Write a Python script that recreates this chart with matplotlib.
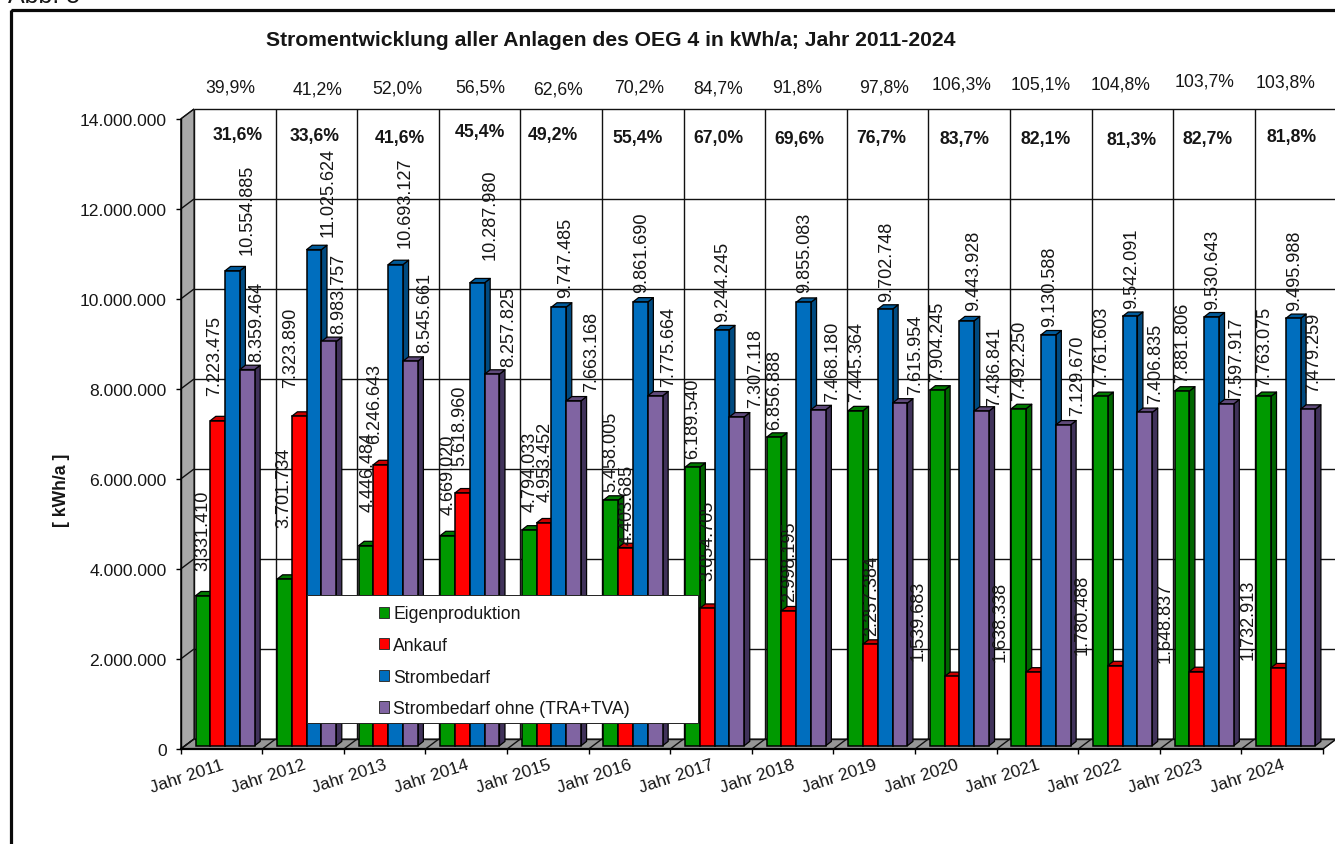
import matplotlib
matplotlib.use("Agg")
import matplotlib.pyplot as plt
from matplotlib.collections import PolyCollection
from matplotlib.patches import Patch, Rectangle, Polygon
from matplotlib.transforms import Affine2D

plt.rcParams['font.family'] = ['Liberation Sans', 'DejaVu Sans']

# ---------- data ----------
years = ["Jahr 2011", "Jahr 2012", "Jahr 2013", "Jahr 2014", "Jahr 2015", "Jahr 2016", "Jahr 2017",
         "Jahr 2018", "Jahr 2019", "Jahr 2020", "Jahr 2021", "Jahr 2022", "Jahr 2023", "Jahr 2024"]
eigenproduktion = [3331410, 3701734, 4446484, 4669020, 4794033, 5458005, 6189540,
                   6856888, 7445364, 7904245, 7492250, 7761603, 7881806, 7763075]
ankauf = [7223475, 7323890, 6246643, 5618960, 4953452, 4403685, 3054705,
          2998195, 2257384, 1539683, 1638338, 1780488, 1648837, 1732913]
strombedarf = [10554885, 11025624, 10693127, 10287980, 9747485, 9861690, 9244245,
               9855083, 9702748, 9443928, 9130588, 9542091, 9530643, 9495988]
strombedarf_ohne = [8359464, 8983757, 8545661, 8257825, 7663168, 7775664, 7307118,
                    7468180, 7615954, 7436841, 7129670, 7406835, 7597917, 7479259]
pct_top = ["39,9%", "41,2%", "52,0%", "56,5%", "62,6%", "70,2%", "84,7%",
           "91,8%", "97,8%", "106,3%", "105,1%", "104,8%", "103,7%", "103,8%"]
pct_bold = ["31,6%", "33,6%", "41,6%", "45,4%", "49,2%", "55,4%", "67,0%",
            "69,6%", "76,7%", "83,7%", "82,1%", "81,3%", "82,7%", "81,8%"]
series_names = ["Eigenproduktion", "Ankauf", "Strombedarf", "Strombedarf ohne (TRA+TVA)"]
yticks = [0, 2000000, 4000000, 6000000, 8000000, 10000000, 12000000, 14000000]

# ---------- styling ----------
front = ["#009900", "#FF0000", "#006EBE", "#8064A2"]
side = ["#006600", "#A80000", "#004A80", "#40325A"]
cap = ["#007A00", "#CC0000", "#005A9A", "#5F4A7A"]
TXT = "#161616"
W, H = 1335, 845
# value-label anchors in picture pixels (centre x, bottom y), one list per series
lab_pos = [
    [(203, 571), (284, 528), (368, 512), (448, 515), (530, 512), (611, 492), (693, 459),
     (775, 430), (857, 402), (938, 382), (1020, 401), (1102, 387), (1183, 383), (1265, 387)],
    [(215, 396), (291, 388), (375, 444), (460, 466), (545, 502), (627, 545), (708, 581),
     (790, 602), (872, 636), (918, 661), (1000, 662), (1082, 655), (1165, 663), (1248, 660)],
    [(247, 255), (328, 237), (405, 248), (490, 260), (566, 298), (642, 293), (723, 322),
     (805, 293), (887, 302), (974, 311), (1050, 327), (1132, 309), (1213, 310), (1295, 311)],
    [(257, 362), (339, 334), (425, 353), (509, 367), (592, 392), (669, 387), (756, 408),
     (833, 402), (916, 395), (995, 407), (1078, 416), (1156, 404), (1237, 398), (1314, 393)],
]
top_pos = [(230, 88), (318, 90), (397, 89), (480, 88), (558, 90), (639, 88), (718, 89),
           (797, 88), (884, 88), (962, 85), (1041, 85), (1121, 85), (1205, 82), (1286, 83)]
bold_pos = [(238, 136), (315, 137), (400, 139), (480, 133), (553, 136), (638, 139), (718, 139),
            (799, 140), (881, 139), (965, 140), (1046, 140), (1132, 141), (1208, 140), (1292, 138)]

fig = plt.figure(figsize=(W / 100, H / 100), dpi=100, facecolor="white")
PX = Affine2D().scale(1, -1).translate(0, H)   # picture pixels -> display

X0, X1, Y0, Y14 = 180.7, 1323.0, 750.0, 120.0
ax = fig.add_axes([X0 / W, (H - Y0) / H, (X1 - X0) / W, (Y0 - Y14) / H])
ax.set_xlim(0, 14)
ax.set_ylim(0, 14000000)
ax.patch.set_visible(False)
ux = 14 / (X1 - X0)                 # one pixel in category units
uy = 14000000 / (Y0 - Y14)          # one pixel in value units

# pseudo-3D depth of the chart box and of the bars, in pixels
DX, DY = 13.3 * ux, 10 * uy
BDX, BDY = 5.5 * ux, 4.3 * uy
BASE = 3.3 * uy
BAR_W = 14.8 * ux
BAR_START = 14.8 * ux

# walls
ax.add_patch(Polygon([(0, 0), (DX, DY), (DX, 14000000 + DY), (0, 14000000)], closed=True,
                     fc="#A8A8A8", ec="#222222", lw=0.8, clip_on=False, zorder=0.5))
ax.add_patch(Polygon([(0, 0), (14, 0), (14 + DX, DY), (DX, DY)], closed=True,
                     fc="#969696", ec="#222222", lw=0.8, clip_on=False, zorder=0.5))
GL = dict(color="#111111", lw=1.0, clip_on=False, zorder=1, solid_capstyle="butt")
for v in yticks:
    ax.plot([DX, 14 + DX], [v + DY, v + DY], **GL)
    ax.plot([0, DX], [v, v + DY], **GL)
for i in range(15):
    ax.plot([i + DX, i + DX], [DY, 14000000 + DY], **GL)
    ax.plot([i, i + DX], [0, DY], **GL)

# bars, series by series so that each front face covers its left neighbour's side
all_series = [eigenproduktion, ankauf, strombedarf, strombedarf_ohne]
for k, vals in enumerate(all_series):
    z = 2 + 0.1 * k
    lefts = [i + BAR_START + k * BAR_W for i in range(len(vals))]
    side_polys, cap_polys = [], []
    for x, v in zip(lefts, vals):
        r = x + BAR_W
        t = v + BASE
        side_polys.append([(r, BASE), (r + BDX, BASE + BDY), (r + BDX, t + BDY), (r, t)])
        cap_polys.append([(x, t), (r, t), (r + BDX, t + BDY), (x + BDX, t + BDY)])
    ax.add_collection(PolyCollection(side_polys, facecolors=side[k], edgecolors="black",
                                     linewidths=0.9, zorder=z, clip_on=False))
    ax.add_collection(PolyCollection(cap_polys, facecolors=cap[k], edgecolors="black",
                                     linewidths=0.9, zorder=z, clip_on=False))
    ax.bar(lefts, vals, width=BAR_W, bottom=BASE, align="edge", color=front[k],
           edgecolor="black", linewidth=1.1, zorder=z + 0.01, clip_on=False)

# axes furniture
for s in ("top", "right"):
    ax.spines[s].set_visible(False)
ax.spines["left"].set_linewidth(1.0)
ax.spines["bottom"].set_linewidth(1.6)
ax.spines["left"].set_zorder(1.5)
ax.spines["bottom"].set_zorder(3)
ax.set_yticks(yticks)
ax.set_yticklabels([f"{v:,}".replace(",", ".") for v in yticks], fontsize=12.6, color=TXT)
ax.tick_params(axis="y", length=3.6, width=1.0, pad=6.6)
ax.set_xticks(range(15))
ax.set_xticklabels([""] * 15)
ax.tick_params(axis="x", which="major", length=3.6, width=1.0)
ax.set_xticks([i + 6 * ux for i in range(14)], labels=years, minor=True)
ax.tick_params(axis="x", which="minor", length=0, pad=5.8)
for t in ax.get_xticklabels(minor=True):
    t.set(rotation=18, ha="center", fontsize=12.5, color=TXT)

# value labels
for vals, poss in zip(all_series, lab_pos):
    for v, (x, y) in zip(vals, poss):
        fig.text(x, y, f"{v:,}".replace(",", "."), transform=PX, rotation=90, ha="center", va="bottom",
                 fontsize=13.1, color=TXT, zorder=6)
for s, (x, y) in zip(pct_top, top_pos):
    fig.text(x, y, s, transform=PX, ha="center", va="center", fontsize=12.7, color=TXT, zorder=6)
for s, (x, y) in zip(pct_bold, bold_pos):
    fig.text(x, y, s, transform=PX, ha="center", va="center", fontsize=12.7, fontweight="bold", color=TXT, zorder=6)

# title and other text
fig.text(611, 41, "Stromentwicklung aller Anlagen des OEG 4 in kWh/a; Jahr 2011-2024", transform=PX,
         ha="center", va="center", fontsize=15.2, fontweight="bold", color=TXT)
fig.text(8, 3.5, "Abb. 5", transform=PX, ha="left", va="baseline", fontsize=18, color=TXT)
fig.text(62, 490, "[ kWh/a ]", transform=PX, rotation=90, ha="center", va="center",
         fontsize=12.7, fontweight="bold", color=TXT)

# outer frame (runs past the right and bottom picture edges)
fig.add_artist(Rectangle((10.5, 10.5), 1340, 850, transform=PX, fill=False, ec="#0a0a0a", lw=2.3))

# legend: white box with the legend entries inside it
fig.add_artist(Rectangle((307, 596), 391, 128, transform=PX, fc="white", ec="#222222", lw=0.7, zorder=4.5))
handles = [Patch(facecolor=c, edgecolor="#333333", linewidth=0.7, label=n) for c, n in zip(front, series_names)]
leg = fig.legend(handles=handles, loc="upper left", bbox_to_anchor=(379, 606.5), bbox_transform=PX,
                 frameon=False, fontsize=12.7, borderpad=0, borderaxespad=0, handlelength=0.57,
                 handleheight=0.6, handletextpad=0.24, labelspacing=0.825, labelcolor=TXT)
leg.set_zorder(5)

fig.savefig("out.png", dpi=100)
